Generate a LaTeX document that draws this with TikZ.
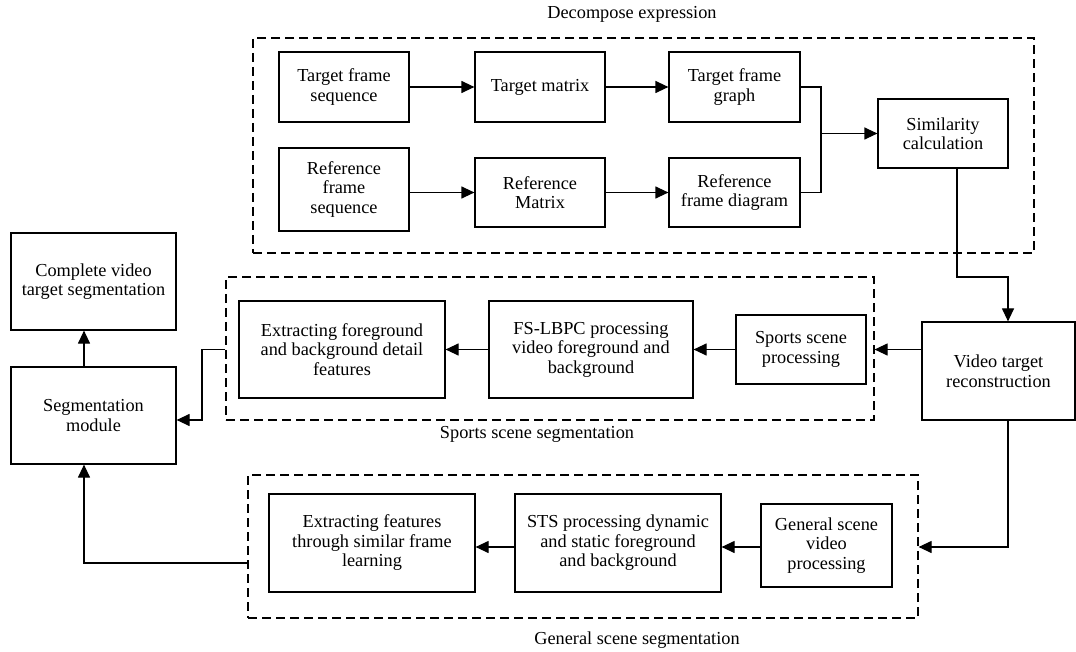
\documentclass[tikz,border=0pt]{standalone}
\usepackage{fontspec}
\setmainfont{Liberation Serif}
\usetikzlibrary{arrows.meta}
\begin{document}
\begin{tikzpicture}[x=1pt,y=-1pt,
  box/.style={draw, line width=1.2pt, inner sep=0pt, align=center, font=\fontsize{18.3}{19.5}\selectfont},
  group/.style={draw, dash pattern=on 9pt off 5pt, line width=1.2pt, inner sep=0pt},
  arr/.style={line width=1.2pt, -{Triangle[length=13pt,width=12pt]}},
  ln/.style={line width=1.2pt},
  lbl/.style={font=\fontsize{18.3}{19.5}\selectfont, inner sep=0pt}]
\useasboundingbox (0,0) rectangle (1076,652);

% group frames
\node[group, minimum width=781pt, minimum height=215pt] (top) at (643.5,145.5) {};
\node[group, minimum width=648pt, minimum height=143pt] (sports) at (550,348.5) {};
\node[group, minimum width=670pt, minimum height=143pt] (gen) at (583,546.5) {};

% labels
\node[lbl] (t1) at (632,14) {Decompose expression};
\node[lbl] (t2) at (537,434) {Sports scene segmentation};
\node[lbl] (t3) at (637,640) {General scene segmentation};

% top group
\node[box, minimum width=130pt, minimum height=70pt] (tfs) at (344,87) {Target frame\\sequence};
\node[box, minimum width=130pt, minimum height=70pt] (tm) at (540,87) {Target matrix};
\node[box, minimum width=131pt, minimum height=70pt] (tfg) at (734.5,87) {Target frame\\graph};
\node[box, minimum width=130pt, minimum height=83pt] (rfs) at (344,189.5) {Reference\\frame\\sequence};
\node[box, minimum width=130pt, minimum height=69pt] (rm) at (540,192.5) {Reference\\Matrix};
\node[box, minimum width=131pt, minimum height=69pt] (rfd) at (734.5,192.5) {Reference\\frame diagram};
\node[box, minimum width=130pt, minimum height=69pt] (sim) at (943,133.5) {Similarity\\calculation};

% left column
\node[box, minimum width=165pt, minimum height=97pt] (cvts) at (93.5,281.5) {Complete video\\target segmentation};
\node[box, minimum width=165pt, minimum height=97pt] (seg) at (93.5,415.5) {Segmentation\\module};

% right
\node[box, minimum width=153pt, minimum height=98pt] (vtr) at (998.5,371) {Video target\\reconstruction};

% sports group
\node[box, minimum width=206pt, minimum height=97pt] (efb) at (342,349.5) {Extracting foreground\\and background detail\\features};
\node[box, minimum width=204pt, minimum height=97pt] (fs) at (591,349.5) {FS-LBPC processing\\video foreground and\\background};
\node[box, minimum width=130pt, minimum height=69pt] (ssp) at (801,349.5) {Sports scene\\processing};

% general group
\node[box, minimum width=206pt, minimum height=98pt] (eff) at (372,543) {Extracting features\\through similar frame\\learning};
\node[box, minimum width=206pt, minimum height=98pt] (sts) at (618,543) {STS processing dynamic\\and static foreground\\and background};
\node[box, minimum width=131pt, minimum height=83pt] (gsp) at (826.5,545.5) {General scene\\video\\processing};

% helper coordinates
\coordinate (mg) at (821,133.5);
\coordinate (s1) at (957,277);
\coordinate (vx) at (1008,277);
\coordinate (c2) at (202,420);
\coordinate (c3) at (1008,547);
\coordinate (c4) at (84,563);

% connectors top
\draw[arr] (tfs) -- (tm);
\draw[arr] (tm) -- (tfg);
\draw[arr] (rfs.east |- rm.center) -- (rm.west);
\draw[arr] (rm) -- (rfd);
\draw[ln] (tfg.east) -| (mg);
\draw[ln] (rfd.east) -| (mg);
\draw[arr] (mg) -- (sim.west);
\draw[arr] (sim.south -| s1) -- (s1) -- (vx) -- (vtr.north -| vx);

% sports
\draw[arr] (vtr.west |- ssp.center) -- (sports.east |- ssp.center);
\draw[arr] (ssp) -- (fs);
\draw[arr] (fs) -- (efb);
\draw[arr] (sports.west |- ssp.center) -| (c2) -- (c2 -| seg.east);

% general
\draw[arr] (vtr.south -| c3) -- (c3) -- (c3 -| gen.east);
\draw[arr] (gsp.west |- c3) -- (sts.east |- c3);
\draw[arr] (sts.west |- c3) -- (eff.east |- c3);
\draw[arr] (gen.west |- c4) -- (c4) -- (c4 |- seg.south);

% left
\draw[arr] (seg.north -| c4) -- (cvts.south -| c4);
\end{tikzpicture}
\end{document}
